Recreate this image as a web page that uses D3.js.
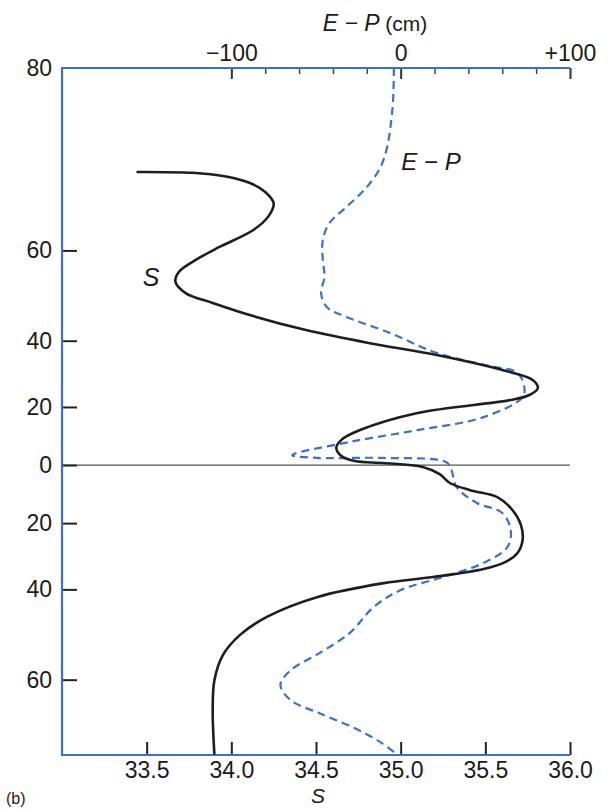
<!DOCTYPE html>
<html>
<head>
<meta charset="utf-8">
<script src="https://d3js.org/d3.v7.min.js"></script>
<style>
  body { margin: 0; background: #fff; }
  text { font-family: "Liberation Sans", Arial, Helvetica, sans-serif; fill: #1a1a1a; }
</style>
</head>
<body>
<svg id="chart" width="608" height="809"></svg>
<script>
// latitude (deg, + = north) and surface salinity S
var sLat = [71.2, 71.1, 70.7, 69.9, 68.8, 67.3, 65.5, 63.4, 60.6, 58.3, 56.0, 54.0, 51.6, 49.4, 46.3,
            42.8, 39.4, 36.0, 31.0, 28.6, 26.1, 23.9, 22.3, 18.0, 12.2, 8.8, 6.0, 3.2, 1.4, 0.7,
            -0.7, -3.2, -6.3, -8.8, -11.2, -15.6, -20.6, -25.5, -29.5, -32.2, -34.3, -36.6, -38.3,
            -42.0, -47.0, -51.2, -55.4, -60.1, -64.9, -70.8];
var sVal = [33.44, 33.77, 33.96, 34.11, 34.20, 34.25, 34.22, 34.13, 33.93, 33.79, 33.69, 33.67, 33.73, 33.89, 34.13,
            34.44, 34.81, 35.22, 35.65, 35.78, 35.81, 35.76, 35.65, 35.10, 34.76, 34.65, 34.62, 34.65, 34.73, 34.90,
            35.13, 35.23, 35.29, 35.41, 35.57, 35.66, 35.71, 35.72, 35.69, 35.62, 35.49, 35.19, 34.90,
            34.51, 34.21, 34.05, 33.95, 33.90, 33.89, 33.90];

// latitude and evaporation minus precipitation (cm / yr)
var epLat = [80.0, 77.8, 75.7, 73.8, 71.7, 69.4, 66.8, 64.5, 61.8, 58.3, 55.0, 51.6, 48.4, 46.1, 42.0,
             36.6, 32.8, 30.8, 26.4, 23.2, 16.6, 12.2, 8.1, 3.5, 2.5, 2.5, 1.0, -1.8, -7.7, -13.2,
             -16.6, -22.3, -27.7, -32.5, -36.6, -40.2, -44.6, -50.7, -55.0, -58.3, -60.9, -63.4, -65.4,
             -67.5, -69.3, -70.8];
var epVal = [-4, -4.5, -6, -8, -12, -20, -32, -42, -46, -46, -45, -47, -43.5, -32, -6,
             21.5, 53, 69, 73, 72, 49, 10, -30, -64, -49, -10, 27, 30, 33, 45,
             60, 65, 63, 49, 25, 0, -16, -30, -48, -65, -71, -65, -48,
             -27, -12, -2];

var latTicks = [80, 60, 40, 20, 0, -20, -40, -60];
var sTicks = [33.5, 34.0, 34.5, 35.0, 35.5, 36.0];
var epMinor = [-80, -60, -40, -20, 20, 40, 60, 80];
var epMajor = [-100, 0, 100];

var blue = "#3f6fc4";
var svg = d3.select("#chart");
var L = 62, R = 570, T = 68, B = 755;

// mercator latitude spacing, like the original figure
function merc(lat) { var r = lat * Math.PI / 180; return Math.log(Math.tan(Math.PI / 4 + r / 2)); }
function invMerc(m) { return (2 * Math.atan(Math.exp(m)) - Math.PI / 2) * 180 / Math.PI; }

var y = d3.scaleLinear().domain([merc(-70.84), merc(80)]).range([B, T]);
var xS = d3.scaleLinear().domain([33, 36]).range([L, R]);
var xEP = d3.scaleLinear().domain([-200, 100]).range([L, R]);

// equator line
svg.append("line")
  .attr("x1", L).attr("x2", R)
  .attr("y1", y(merc(0))).attr("y2", y(merc(0)))
  .attr("stroke", "#555").attr("stroke-width", 1.3);

// left axis (latitude)
var gy = svg.append("g").attr("transform", "translate(" + L + ",0)")
  .call(d3.axisLeft(y)
    .tickValues(latTicks.map(merc))
    .tickSize(-15).tickPadding(10)
    .tickFormat(function(d) { return Math.abs(Math.round(invMerc(d))); }));
gy.select(".domain").remove();
gy.selectAll(".tick line").attr("stroke", "#222").attr("stroke-width", 2)
  .filter(function(d) { return Math.round(invMerc(d)) == 80; }).remove();
gy.selectAll(".tick text").attr("font-size", 23).attr("fill", "#1a1a1a").attr("font-family", null);

// bottom axis (S)
var gx = svg.append("g").attr("transform", "translate(0," + B + ")")
  .call(d3.axisBottom(xS).tickValues(sTicks).tickSize(-13).tickPadding(7).tickFormat(d3.format(".1f")));
gx.select(".domain").remove();
gx.selectAll(".tick line").attr("stroke", "#222").attr("stroke-width", 2);
gx.selectAll(".tick text").attr("font-size", 23).attr("fill", "#1a1a1a").attr("font-family", null);

// top axis (E-P)
var gt1 = svg.append("g").attr("transform", "translate(0," + T + ")")
  .call(d3.axisTop(xEP).tickValues(epMinor).tickSize(-6).tickFormat(""));
gt1.select(".domain").remove();
gt1.selectAll(".tick line").attr("stroke", "#444").attr("stroke-width", 1.5);
var gt2 = svg.append("g").attr("transform", "translate(0," + T + ")")
  .call(d3.axisTop(xEP).tickValues(epMajor).tickSize(-11).tickPadding(7)
    .tickFormat(function(d) { return d > 0 ? "+" + d : (d < 0 ? "\u2212" + (-d) : "0"); }));
gt2.select(".domain").remove();
gt2.selectAll(".tick line").attr("stroke", "#333").attr("stroke-width", 2);
gt2.selectAll(".tick text").attr("font-size", 23).attr("fill", "#1a1a1a").attr("font-family", null);

// blue frame lines
svg.append("path")
  .attr("d", "M" + R + "," + T + "H" + L + "V" + B + "H" + R)
  .attr("fill", "none").attr("stroke", blue).attr("stroke-width", 2.2);

// curves
var lineS = d3.line()
  .x(function(d) { return xS(d[1]); })
  .y(function(d) { return y(merc(d[0])); })
  .curve(d3.curveCatmullRom.alpha(0.5));
var lineEP = d3.line()
  .x(function(d) { return xEP(d[1]); })
  .y(function(d) { return y(merc(d[0])); })
  .curve(d3.curveCatmullRom.alpha(0.5));

svg.append("path")
  .datum(epLat.map(function(l, i) { return [l, epVal[i]]; }))
  .attr("d", lineEP)
  .attr("fill", "none").attr("stroke", "#3b6fd2").attr("stroke-width", 2.2)
  .attr("stroke-dasharray", "8,5");

svg.append("path")
  .datum(sLat.map(function(l, i) { return [l, sVal[i]]; }))
  .attr("d", lineS)
  .attr("fill", "none").attr("stroke", "#1e1e1e").attr("stroke-width", 2.6);

// labels
var epTitle = svg.append("text").attr("x", 375).attr("y", 31).attr("text-anchor", "middle").attr("font-size", 23);
epTitle.append("tspan").attr("font-style", "italic").text("E \u2212 P");
epTitle.append("tspan").attr("font-size", 21).text(" (cm)");

svg.append("text").attr("x", 431).attr("y", 170).attr("text-anchor", "middle")
  .attr("font-size", 24).attr("font-style", "italic").text("E \u2212 P");
svg.append("text").attr("x", 151).attr("y", 286).attr("text-anchor", "middle")
  .attr("font-size", 25).attr("font-style", "italic").text("S");
svg.append("text").attr("x", 318).attr("y", 803).attr("text-anchor", "middle")
  .attr("font-size", 21).attr("font-style", "italic").text("S");
svg.append("text").attr("x", 6).attr("y", 804).attr("font-size", 16).text("(b)");
</script>
</body>
</html>
